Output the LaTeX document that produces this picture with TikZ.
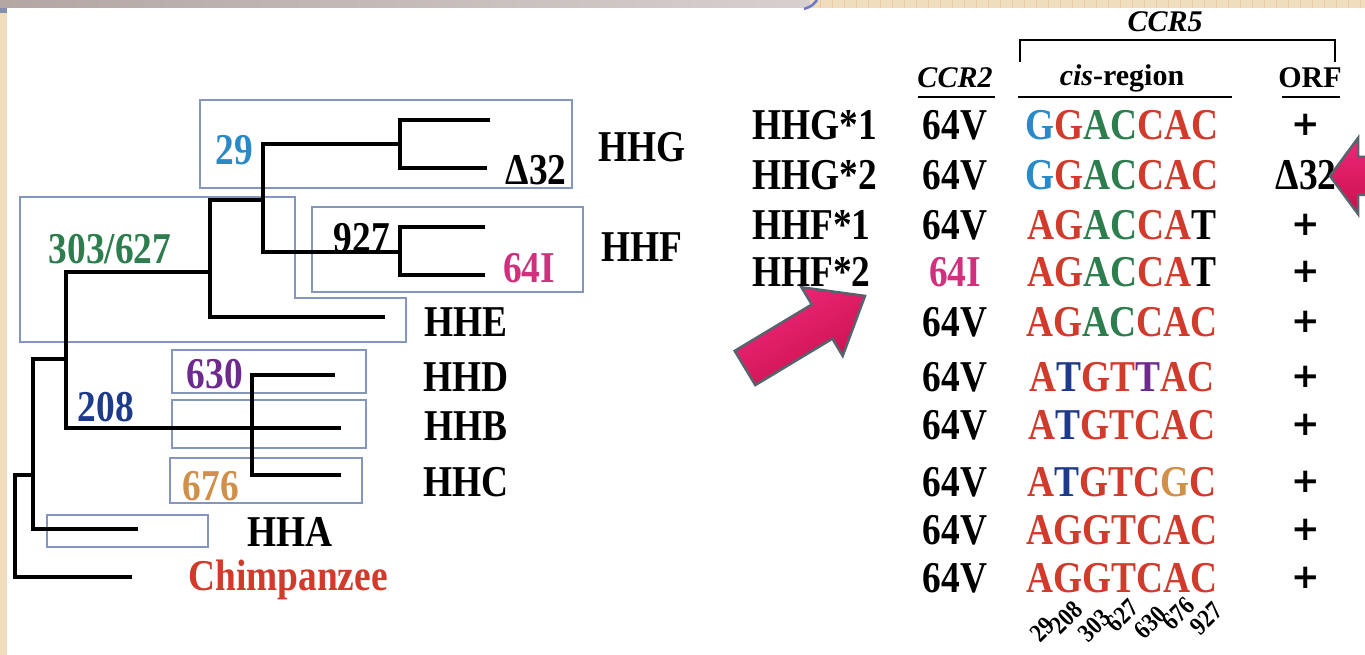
\documentclass[tikz,border=0pt]{standalone}
\usepackage{fontspec}
\usepackage{graphicx}
\setmainfont{Liberation Serif}
\newfontfamily\bodyf{Liberation Serif}[FakeStretch=0.85]
\newfontfamily\plusf{DejaVu Sans}
\definecolor{sred}{HTML}{D23A2C}
\definecolor{sgreen}{HTML}{2E7D4E}
\definecolor{sblue}{HTML}{2A8AC8}
\definecolor{snavy}{HTML}{1E3A8A}
\definecolor{spurple}{HTML}{6E2A8E}
\definecolor{sorange}{HTML}{D0904A}
\definecolor{smag}{HTML}{D0307E}
\definecolor{boxc}{HTML}{8496C0}
\definecolor{beige}{HTML}{EFDDBE}
\definecolor{topgreyA}{HTML}{B3A6A3}
\definecolor{topgreyB}{HTML}{D8D0CF}
\definecolor{arrowA}{HTML}{F0287A}
\definecolor{arrowB}{HTML}{C8104C}
\definecolor{arrowE}{HTML}{56646E}
\newcommand\qR[1]{\textcolor{sred}{#1}}
\newcommand\qG[1]{\textcolor{sgreen}{#1}}
\newcommand\qB[1]{\textcolor{sblue}{#1}}
\newcommand\qN[1]{\textcolor{snavy}{#1}}
\newcommand\qP[1]{\textcolor{spurple}{#1}}
\newcommand\qO[1]{\textcolor{sorange}{#1}}
\newcommand\qK[1]{\textcolor{black}{#1}}
\newcommand\pl{{\plusf\bfseries\fontsize{34}{34}\selectfont +}}
\tikzset{
  tree/.style={line width=3.5pt, line join=miter},
  clbox/.style={draw=boxc, line width=2.3pt},
  big/.style={inner sep=0pt, font=\bodyf\bfseries\fontsize{44}{46}\selectfont},
  hdr/.style={inner sep=0pt, font=\bfseries\fontsize{30}{32}\selectfont},
  num/.style={inner sep=0pt, font=\bodyf\bfseries\fontsize{26}{26}\selectfont, rotate=45, anchor=east},
  ulin/.style={line width=2.5pt},
  pinkarrow/.style={draw=arrowE, line width=2.5pt, top color=arrowA, bottom color=arrowB}
}
\begin{document}
\begin{tikzpicture}[x=1pt,y=-1pt]
\useasboundingbox (0,0) rectangle (1365,655);
\fill[white] (0,0) rectangle (1365,655);
% frame decorations
\shade[left color=topgreyA, right color=topgreyB] (0,0) rectangle (810,8);
\fill[beige] (810,0) rectangle (1365,8);
\foreach \xx in {820,832,...,1365} \draw[beige!80!brown, line width=1pt] (\xx,0) -- (\xx,8);
\draw[boxc!80!blue, line width=2.5pt] (804,9) .. controls (812,6) .. (817,0);
\fill[beige] (0,8) rectangle (7,655);
\fill[boxc!70!gray] (0,8) rectangle (7,13);

% clade boxes
\draw[clbox] (200,100) rectangle (572,188);
\draw[clbox] (312,207) rectangle (583,292);
\draw[clbox] (20,197) -- (295,197) -- (295,298) -- (406,298) -- (406,342) -- (20,342) -- cycle;
\draw[clbox] (172,350) rectangle (366,393);
\draw[clbox] (172,400) rectangle (366,448);
\draw[clbox] (170,458) rectangle (362,503);
\draw[clbox] (47,515) rectangle (208,547);

% tree
\coordinate (g1) at (490,120); \coordinate (g2) at (487,168);
\coordinate (f1) at (485,227); \coordinate (f2) at (485,275);
\coordinate (e) at (385,317); \coordinate (d) at (335,375);
\coordinate (b) at (341,428); \coordinate (c) at (341,475);
\coordinate (a) at (138,529); \coordinate (ch) at (132,577);
\draw[tree] (g1) -- (400,120) -- (400,168) -- (g2);
\draw[tree] (f1) -- (400,227) -- (400,275) -- (f2);
\draw[tree] (400,144) -- (263,144) -- (263,252) -- (400,252);
\draw[tree] (263,200) -- (210,200) -- (210,317) -- (e);
\draw[tree] (210,272) -- (66,272) -- (66,428) -- (b);
\draw[tree] (d) -- (252,375) -- (252,475) -- (c);
\draw[tree] (66,359) -- (33,359) -- (33,529) -- (a);
\draw[tree] (33,475) -- (15,475) -- (15,577) -- (ch);

% tree labels
\node[big, text=sblue] (l29) at (234,150) {29};
\node[big] (l927) at (362,238) {927};
\node[big, text=smag] (l64I) at (529,268) {64I};
\node[big] (ld32) at (536,170) {Δ32};
\node[big, text=sgreen] (l303) at (110,249) {303/627};
\node[big, text=snavy] (l208) at (106,407) {208};
\node[big, text=spurple] (l630) at (215,374) {630};
\node[big, text=sorange] (l676) at (211,486) {676};
\node[big] (hhg) at (642,147) {HHG};
\node[big] (hhf) at (642,247) {HHF};
\node[big] (hhe) at (466,322) {HHE};
\node[big] (hhd) at (466,377) {HHD};
\node[big] (hhb) at (466,426) {HHB};
\node[big] (hhc) at (466,482) {HHC};
\node[big] (hha) at (290,532) {HHA};
\node[big, text=sred] (chimp) at (288,580) {Chimpanzee};

% table header
\node[hdr] (ccr5) at (1165,22) {\itshape CCR5};
\draw[ulin] (1020,62) -- (1020,40) -- (1335,40) -- (1335,62);
\node[hdr] (ccr2) at (955,78) {\itshape CCR2};
\node[hdr] (cis) at (1122,78) {\textit{cis}-region};
\node[hdr] (orf) at (1310,78) {ORF};
\draw[ulin] (918,97) -- (995,97);
\draw[ulin] (1018,97) -- (1232,97);
\draw[ulin] (1282,97) -- (1340,97);

% table rows
\node[big, anchor=west] (r1) at (752,125) {HHG*1};
\node[big, anchor=west] (r2) at (752,175) {HHG*2};
\node[big, anchor=west] (r3) at (752,225) {HHF*1};
\node[big, anchor=west] (r4) at (752,272) {HHF*2};
\foreach \yy/\cc/\ss/\oo [count=\i] in {
 125/64V/{\qB{G}\qR{G}\qG{AC}\qR{CAC}}/\pl,
 175/64V/{\qB{G}\qR{G}\qG{AC}\qR{CAC}}/{Δ32},
 225/64V/{\qR{AG}\qG{AC}\qR{CA}\qK{T}}/\pl,
 272/\textcolor{smag}{64I}/{\qR{AG}\qG{AC}\qR{CA}\qK{T}}/\pl,
 322/64V/{\qR{AG}\qG{AC}\qR{CAC}}/\pl,
 377/64V/{\qR{A}\qN{T}\qR{GT}\qP{T}\qR{AC}}/\pl,
 425/64V/{\qR{A}\qN{T}\qR{GTCAC}}/\pl,
 482/64V/{\qR{A}\qN{T}\qR{GTC}\qO{G}\qR{C}}/\pl,
 530/64V/{\qR{AGGTCAC}}/\pl,
 578/64V/{\qR{AGGTCAC}}/\pl}{
  \node[big] (c\i) at (955,\yy) {\cc};
  \node[big] (s\i) at (1122,\yy) {\ss};
  \node[big] (o\i) at (1306,\yy) {\oo};
}

% rotated SNP positions
\foreach \t/\xx/\yy [count=\j] in {29/1050/622, 208/1078/606, 303/1106/614, 627/1134/604, 630/1162/611, 676/1190/602, 927/1218/607}{
  \node[num] (p\j) at (\xx,\yy) {\t};
}

% arrows
\filldraw[pinkarrow] (1368,157) -- (1358,157) -- (1358,138) -- (1330,176) -- (1358,214) -- (1358,195) -- (1368,195) -- cycle;
\filldraw[pinkarrow, shading angle=30] (734.7,350.9) -- (811.8,304.5) -- (801.5,287.3) -- (865,295.9) -- (842.7,355.9) -- (832.4,338.7) -- (755.3,385.1) -- cycle;
\end{tikzpicture}
\end{document}
